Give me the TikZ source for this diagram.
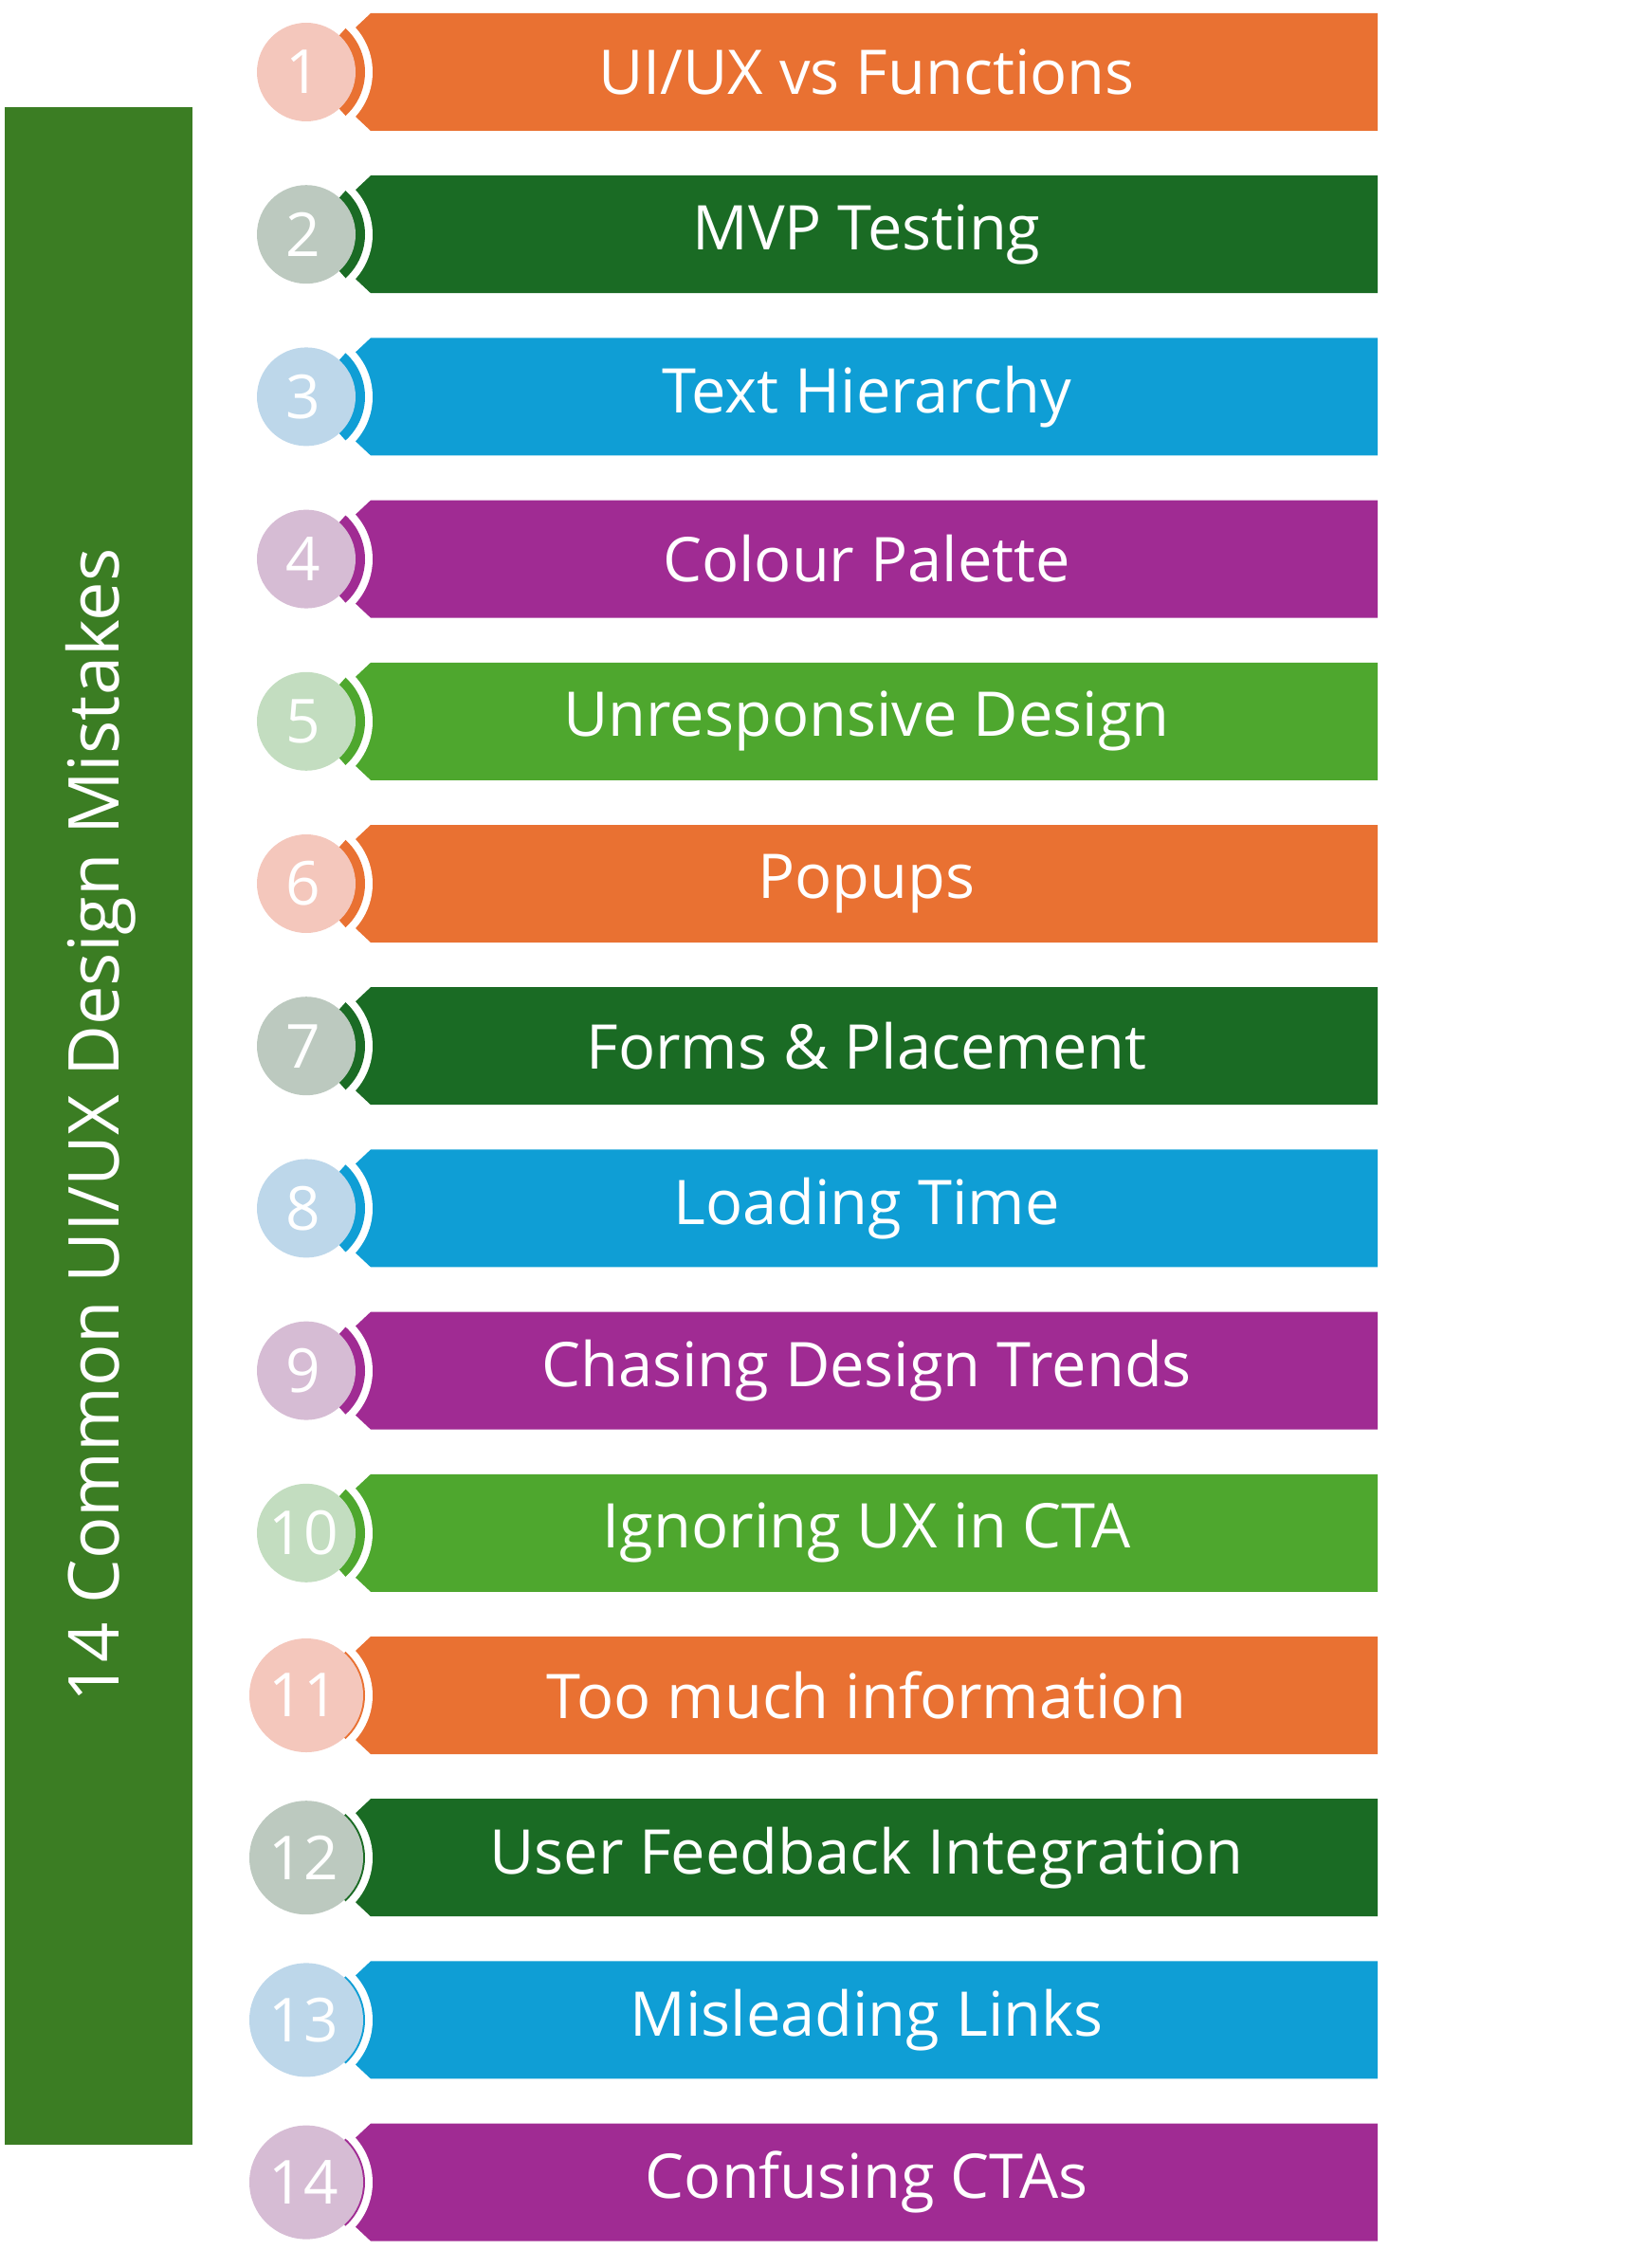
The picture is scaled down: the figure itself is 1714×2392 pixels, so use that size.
\documentclass[tikz,border=0pt]{standalone}
\usepackage{fontspec}
\setmainfont{Open Sans}
\definecolor{cO}{HTML}{E97132}\definecolor{tO}{HTML}{F4C7BC}
\definecolor{cG}{HTML}{1A6B24}\definecolor{tG}{HTML}{BCC9BF}
\definecolor{cB}{HTML}{0F9ED5}\definecolor{tB}{HTML}{BDD7EA}
\definecolor{cP}{HTML}{A02B93}\definecolor{tP}{HTML}{D6BCD4}
\definecolor{cL}{HTML}{4EA72E}\definecolor{tL}{HTML}{C3DDC0}
\definecolor{title}{HTML}{3B7D23}
\tikzset{lbl/.style={text=white,font=\fontsize{65}{68}\selectfont},
num/.style={text=white,font=\fontsize{64}{66}\selectfont}}
\begin{document}
\begin{tikzpicture}[x=1pt,y=-1pt]
\useasboundingbox (0,0) rectangle (1714,2392);
\fill[title] (5,113) rectangle (203,2262);
\node[rotate=90,text=white,font=\fontsize{74}{76}\selectfont] (title) at (106,1187) {14 Common UI/UX Design Mistakes};
\foreach \i/\c/\tn/\r/\txt in {1/cO/tO/52/{UI/UX vs Functions},2/cG/tG/52/MVP Testing,3/cB/tB/52/Text Hierarchy,4/cP/tP/52/Colour Palette,5/cL/tL/52/Unresponsive Design,6/cO/tO/52/Popups,7/cG/tG/52/Forms \& Placement,8/cB/tB/52/Loading Time,9/cP/tP/52/Chasing Design Trends,10/cL/tL/52/Ignoring UX in CTA,11/cO/tO/60/Too much information,12/cG/tG/60/User Feedback Integration,13/cB/tB/60/Misleading Links,14/cP/tP/60/Confusing CTAs}{
  \pgfmathsetmacro{\ytop}{14+(\i-1)*171.2}
  \pgfmathsetmacro{\m}{\ytop+62}
  \fill[\c] (391,\ytop) -- (1453,\ytop) -- (1453,\ytop+124) -- (391,\ytop+124) -- (375,\ytop+109) -- (375,\ytop+15) -- cycle;
  \fill[white] (323,\m) -- ++(-55:70) arc[start angle=-55,end angle=55,radius=70] -- cycle;
  \fill[\c] (323,\m) -- ++(-48:62) arc[start angle=-48,end angle=48,radius=62] -- cycle;
  \fill[\tn] (323,\m) circle[radius=\r];
  \node[num] (n\i) at (320,\m) {\i};
  \node[lbl] (b\i) at (914,\m) {\txt};
}
\end{tikzpicture}
\end{document}
